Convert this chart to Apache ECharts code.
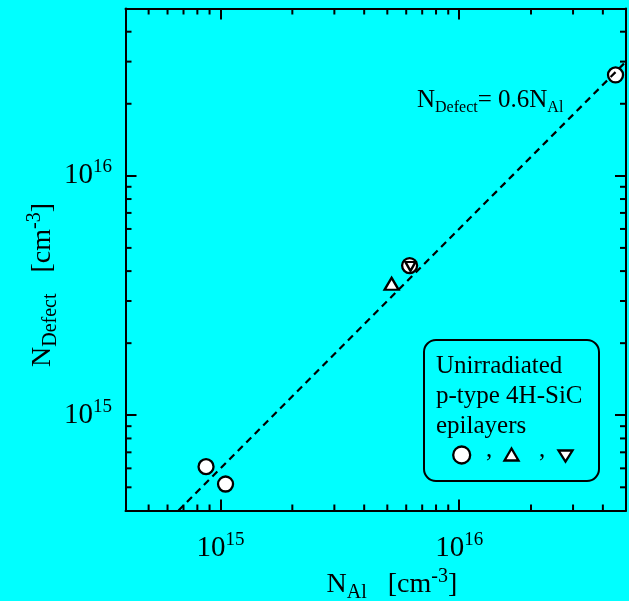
<!DOCTYPE html>
<html>
<head>
<meta charset="utf-8">
<script src="https://cdn.jsdelivr.net/npm/echarts@6/dist/echarts.min.js"></script>
<style>
html, body {margin: 0; padding: 0; background: #00ffff;}
#chart {width: 629px; height: 601px;}
</style>
</head>
<body>
<div id="chart"></div>
<script>
// 数据
var aCircleX = [8.7e14, 1.05e15, 6.2e15, 4.52e16];
var aCircleY = [6.1e14, 5.16e14, 4.22e15, 2.64e16];
var aUpX = [5.21e15];
var aUpY = [3.54e15];
var aDownX = [6.25e15];
var aDownY = [4.18e15];
// N_Defect = 0.6 N_Al
var aFitX = [6.67e14, 5.0e16];
var aFitY = [4.0e14, 3.0e16];
// 坐标轴
var aAxisRange = [4e14, 5e16];
var aMinorX = [5e14, 6e14, 7e14, 8e14, 9e14, 2e15, 3e15, 4e15, 5e15, 6e15, 7e15, 8e15, 9e15, 2e16, 3e16, 4e16];
var aMinorY = [5e14, 6e14, 7e14, 8e14, 9e14, 2e15, 3e15, 4e15, 5e15, 6e15, 7e15, 8e15, 9e15, 2e16, 3e16, 4e16];

var sFont = 'Liberation Serif';
var iMinorLen = 6;

function Pairs(aX, aY) {
    var aOut = [];
    for (var i = 0; i < aX.length; i++) {
        aOut.push([aX[i], aY[i]]);
    }
    return aOut
}

function PowLabel(fValue) {
    var fExp = Math.log10(fValue);
    var iExp = Math.round(fExp);
    if (Math.abs(fExp - iExp) > 1e-6) {
        return ''
    }
    return '{b|10}{s|' + iExp + '}';
}

var jTickRich = {
    b: {fontSize: 29, fontFamily: sFont, color: '#000', lineHeight: 36, verticalAlign: 'middle'},
    s: {fontSize: 19, fontFamily: sFont, color: '#000', lineHeight: 10, verticalAlign: 'top'}
};

function AxisBase(sPos, bLabel, iMargin) {
    return {
        type: 'log',
        logBase: 10,
        position: sPos,
        min: aAxisRange[0],
        max: aAxisRange[1],
        axisLine: {show: true, lineStyle: {color: '#000', width: 2}},
        axisTick: {show: true, inside: true, length: 11, lineStyle: {color: '#000', width: 2}},
        minorTick: {show: false},
        splitLine: {show: false},
        axisLabel: {
            show: bLabel,
            margin: iMargin,
            formatter: PowLabel,
            rich: jTickRich
        }
    };
}

// 次刻度（2..9 x 10^n），四条边都画
function MinorTickX(params, api) {
    var v = api.value(0);
    var pB = api.coord([v, aAxisRange[0]]);
    var pT = api.coord([v, aAxisRange[1]]);
    var jStyle = {stroke: '#000', lineWidth: 2};
    return {
        type: 'group',
        children: [
            {type: 'line', shape: {x1: pB[0], y1: pB[1], x2: pB[0], y2: pB[1] - iMinorLen}, style: jStyle},
            {type: 'line', shape: {x1: pT[0], y1: pT[1], x2: pT[0], y2: pT[1] + iMinorLen}, style: jStyle}
        ]
    };
}

function MinorTickY(params, api) {
    var v = api.value(1);
    var pL = api.coord([aAxisRange[0], v]);
    var pR = api.coord([aAxisRange[1], v]);
    var jStyle = {stroke: '#000', lineWidth: 2};
    return {
        type: 'group',
        children: [
            {type: 'line', shape: {x1: pL[0], y1: pL[1], x2: pL[0] + iMinorLen, y2: pL[1]}, style: jStyle},
            {type: 'line', shape: {x1: pR[0], y1: pR[1], x2: pR[0] - iMinorLen, y2: pR[1]}, style: jStyle}
        ]
    };
}

var jMarkStyle = {color: '#fff', borderColor: '#000', borderWidth: 2.3, opacity: 1};

var jNameRich = {
    n: {fontSize: 28, fontFamily: sFont, color: '#000', lineHeight: 36, verticalAlign: 'middle'},
    d: {fontSize: 20, fontFamily: sFont, color: '#000', lineHeight: 23, verticalAlign: 'bottom'},
    u: {fontSize: 20, fontFamily: sFont, color: '#000', lineHeight: 18, verticalAlign: 'top'}
};

var jOption = {
    backgroundColor: '#00ffff',
    animation: false,
    grid: {left: 125.5, right: 0.2, top: 8.5, bottom: 90.5},
    xAxis: [AxisBase('bottom', true, 20), AxisBase('top', false, 8)],
    yAxis: [AxisBase('left', true, 13.5), AxisBase('right', false, 8)],
    series: [
        {
            type: 'custom',
            silent: true,
            renderItem: MinorTickX,
            data: aMinorX.map(function (v) { return [v, aAxisRange[0]]; })
        },
        {
            type: 'custom',
            silent: true,
            renderItem: MinorTickY,
            data: aMinorY.map(function (v) { return [aAxisRange[0], v]; })
        },
        {
            name: 'circle',
            type: 'scatter',
            symbol: 'circle',
            symbolSize: 15,
            itemStyle: jMarkStyle,
            data: Pairs(aCircleX, aCircleY)
        },
        {
            name: 'up',
            type: 'scatter',
            symbol: 'triangle',
            symbolSize: [14, 12],
            itemStyle: jMarkStyle,
            data: Pairs(aUpX, aUpY)
        },
        {
            name: 'down',
            type: 'scatter',
            symbol: 'triangle',
            symbolRotate: 180,
            symbolSize: [10, 9],
            itemStyle: jMarkStyle,
            data: Pairs(aDownX, aDownY)
        },
        {
            name: 'fit',
            type: 'line',
            showSymbol: false,
            symbol: 'none',
            lineStyle: {color: '#000', width: 2.2, type: [7, 5]},
            data: Pairs(aFitX, aFitY)
        }
    ],
    graphic: [
        {
            type: 'text', x: 417, y: 100.5,
            style: {
                text: '{n|N}{d|Defect}{n|= 0.6N}{d|Al}',
                align: 'left', verticalAlign: 'middle',
                rich: {
                    n: {fontSize: 25, fontFamily: sFont, color: '#000', lineHeight: 30, verticalAlign: 'middle'},
                    d: {fontSize: 16, fontFamily: sFont, color: '#000', lineHeight: 14, verticalAlign: 'bottom'}
                }
            }
        },
        {
            type: 'rect',
            shape: {x: 424, y: 340, width: 175, height: 141, r: 12},
            style: {fill: 'transparent', stroke: '#000', lineWidth: 2}
        },
        {
            type: 'text', x: 436, y: 351,
            style: {
                text: 'Unirradiated\np-type 4H-SiC\nepilayers',
                fontSize: 25, fontFamily: sFont, fill: '#000', lineHeight: 30,
                align: 'left', verticalAlign: 'top'
            }
        },
        {
            type: 'circle',
            shape: {cx: 461.7, cy: 455, r: 8.5},
            style: {fill: '#fff', stroke: '#000', lineWidth: 2.3}
        },
        {
            type: 'polygon',
            shape: {points: [[504.5, 460.5], [518.5, 460.5], [511.5, 448.5]]},
            style: {fill: '#fff', stroke: '#000', lineWidth: 2.3}
        },
        {
            type: 'polygon',
            shape: {points: [[558.5, 450.5], [572.5, 450.5], [565.5, 461.5]]},
            style: {fill: '#fff', stroke: '#000', lineWidth: 2.3}
        },
        {
            type: 'text', x: 489, y: 450.5,
            style: {text: ',', fontSize: 25, fontFamily: sFont, fill: '#000', align: 'center', verticalAlign: 'middle'}
        },
        {
            type: 'text', x: 542, y: 450.5,
            style: {text: ',', fontSize: 25, fontFamily: sFont, fill: '#000', align: 'center', verticalAlign: 'middle'}
        },
        {
            type: 'text', x: 326.5, y: 585,
            style: {
                text: '{n|N}{d|Al}{n|   [cm}{u|-3}{n|]}',
                align: 'left', verticalAlign: 'middle',
                rich: jNameRich
            }
        },
        {
            type: 'text', x: 42.5, y: 285, rotation: Math.PI / 2,
            style: {
                text: '{n|N}{d|Defect}{n|   [cm}{u|-3}{n|]}',
                align: 'center', verticalAlign: 'middle',
                rich: jNameRich
            }
        }
    ]
};

var myChart = echarts.init(document.getElementById('chart'));
myChart.setOption(jOption);
</script>
</body>
</html>
